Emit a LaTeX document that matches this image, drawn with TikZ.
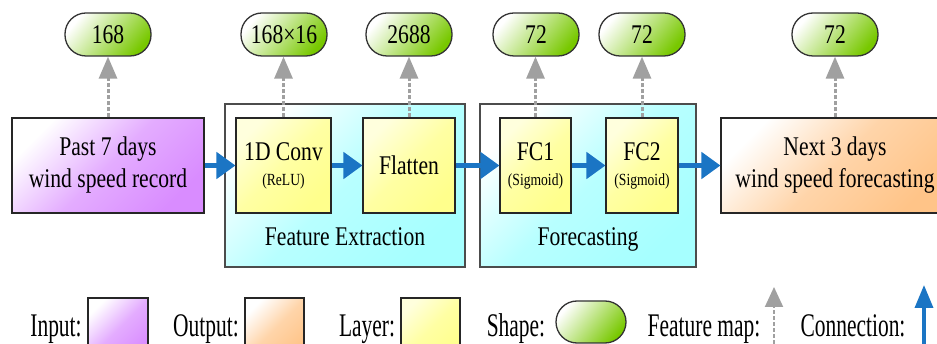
\documentclass[tikz,border=0pt]{standalone}
\usepackage{graphicx}
\usepackage{fontspec}
\setmainfont{Liberation Serif}
\usetikzlibrary{arrows.meta}

\definecolor{inpurple}{HTML}{D98CFF}
\definecolor{outorange}{HTML}{FFC488}
\definecolor{layyellow}{HTML}{FFFF8C}
\definecolor{groupcyan}{HTML}{A6FFFF}
\definecolor{pillgreen}{HTML}{78C800}
\definecolor{featgray}{HTML}{A0A0A0}
\definecolor{connblue}{HTML}{1B75C4}

% narrow (condensed) text helpers
\newcommand{\nw}[1]{\scalebox{0.8}[1]{#1}}
\newcommand{\lw}[1]{\scalebox{0.65}[1]{#1}}
\newcommand{\sublabel}[1]{{\fontsize{17}{20}\selectfont\scalebox{0.8}[1]{#1}}}

\begin{document}
\begin{tikzpicture}[x=1pt,y=-1pt,
  box/.style={draw=black!85, line width=1.1pt, inner sep=0pt, align=center,
    minimum height=95pt, font=\fontsize{27}{32}\selectfont},
  inbox/.style={box, top color=white, bottom color=inpurple,
    middle color=inpurple!72!white, shading angle=45},
  outbox/.style={box, top color=white, bottom color=outorange,
    middle color=outorange!72!white, shading angle=45},
  laybox/.style={box, top color=white!70!layyellow, bottom color=layyellow,
    middle color=layyellow!80!white, shading angle=45},
  group/.style={draw=black!70, line width=1.3pt, inner sep=0pt,
    top color=white, bottom color=groupcyan, middle color=groupcyan!80!white,
    shading angle=45},
  groupname/.style={font=\fontsize{27}{32}\selectfont, inner sep=0pt},
  pill/.style={draw=black!80, line width=1.3pt, rounded corners=21pt, inner sep=0pt,
    minimum width=86pt, minimum height=43pt, font=\fontsize{27}{32}\selectfont,
    top color=white, bottom color=pillgreen, shading angle=50},
  feat/.style={draw=featgray, line width=3pt, dash pattern=on 4pt off 2pt,
    -{Triangle[width=18pt,length=22pt]}},
  conn/.style={draw=connblue, line width=5pt, -{Triangle[width=26pt,length=19pt]}},
  legtext/.style={font=\fontsize{33}{36}\selectfont, inner sep=0pt, anchor=base},
]
\clip (0,0) rectangle (937,344);

% grouping panels
\node[group, minimum width=240pt, minimum height=163pt] (fe) at (345,185.5) {};
\node[group, minimum width=216pt, minimum height=163pt] (fc) at (588,185.5) {};
\node[groupname, anchor=base] (fename) at (345,246) {\nw{Feature Extraction}};
\node[groupname, anchor=base] (fcname) at (588,246) {\nw{Forecasting}};

% network blocks
\node[inbox, minimum width=192pt] (inp) at (108,165.5) {\nw{Past 7 days}\\\nw{wind speed record}};
\node[laybox, minimum width=95pt] (conv) at (283.5,165.5) {\nw{1D Conv}\\[-7pt]\sublabel{(ReLU)}};
\node[laybox, minimum width=92pt] (flat) at (409,165.5) {\nw{Flatten}};
\node[laybox, minimum width=71pt] (fc1) at (535.5,165.5) {\nw{FC1}\\[-7pt]\sublabel{(Sigmoid)}};
\node[laybox, minimum width=72pt] (fc2) at (642,165.5) {\nw{FC2}\\[-7pt]\sublabel{(Sigmoid)}};
\node[outbox, minimum width=228pt] (out) at (835,165.5) {\nw{Next 3 days}\\\nw{wind speed forecasting}};

% output shapes
\node[pill] (s1) at (108,34.5) {\nw{168}};
\node[pill] (s2) at (284,34.5) {\nw{168×16}};
\node[pill] (s3) at (409,34.5) {\nw{2688}};
\node[pill] (s4) at (536,34.5) {\nw{72}};
\node[pill] (s5) at (642,34.5) {\nw{72}};
\node[pill] (s6) at (835,34.5) {\nw{72}};

% feature maps
\draw[feat] (inp.north) -- (s1.south);
\draw[feat] (conv.north) -- (conv.north |- s2.south);
\draw[feat] (flat.north) -- (s3.south);
\draw[feat] (fc1.north) -- (fc1.north |- s4.south);
\draw[feat] (fc2.north) -- (s5.south);
\draw[feat] (out.north) -- (s6.south);

% connections
\draw[conn] (inp.east) -- (conv.west);
\draw[conn] (conv.east) -- (flat.west);
\draw[conn] (flat.east) -- (fc1.west);
\draw[conn] (fc1.east) -- (fc2.west);
\draw[conn] (fc2.east) -- (out.west);

% legend
\node[legtext] (linp) at (56,337) {\lw{Input:}};
\node[inbox, minimum width=60pt, minimum height=62pt] (kinp) at (118,329) {};
\node[legtext] (lout) at (206,337) {\lw{Output:}};
\node[outbox, minimum width=59pt, minimum height=62pt] (kout) at (274.5,329) {};
\node[legtext] (llay) at (367,337) {\lw{Layer:}};
\node[laybox, minimum width=59pt, minimum height=62pt] (klay) at (430.5,329) {};
\node[legtext] (lshape) at (516,337) {\lw{Shape:}};
\node[pill, minimum width=70pt, minimum height=42pt] (kshape) at (591,322) {};
\node[legtext] (lfeat) at (704,337) {\lw{Feature map:}};
\coordinate (kfeattail) at (774,362);
\coordinate (kfeattip) at (774,287);
\draw[feat, line width=2pt, -{Triangle[width=18pt,length=20pt]}] (kfeattail) -- (kfeattip);
\node[legtext] (lconn) at (853,337) {\lw{Connection:}};
\coordinate (kconntail) at (924,362);
\coordinate (kconntip) at (924,285);
\draw[conn, line width=3.5pt, -{Triangle[width=18pt,length=23pt]}] (kconntail) -- (kconntip);
\end{tikzpicture}
\end{document}
